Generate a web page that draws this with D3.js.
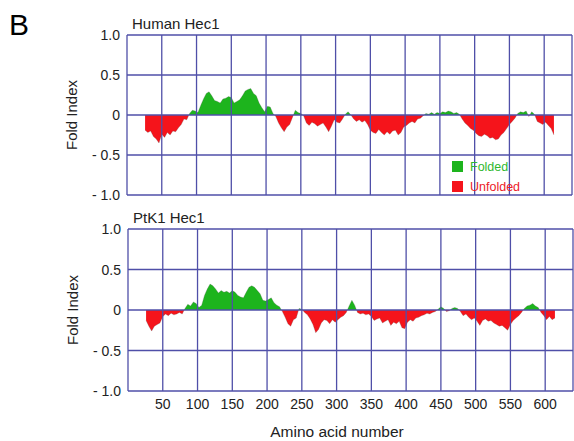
<!DOCTYPE html>
<html>
<head>
<meta charset="utf-8">
<script src="https://cdn.jsdelivr.net/npm/d3@7"></script>
<style>
  body { margin: 0; background: #fff; }
  text { font-family: "Liberation Sans", Arial, sans-serif; }
</style>
</head>
<body>
<svg id="chart" width="574" height="441"></svg>
<script>
// FoldIndex profiles, one value every 4 residues starting at residue 26
const residueStart = 26;
const residueStep = 4;

const humanHec1 = [
  -0.19, -0.22, -0.2, -0.27, -0.3, -0.35, -0.24, -0.28, -0.22, -0.25,
  -0.2, -0.21, -0.16, -0.12, -0.05, -0.06, 0.02, 0.06, 0.05, 0.03,
  0.12, 0.2, 0.27, 0.29, 0.24, 0.18, 0.17, 0.15, 0.2, 0.21,
  0.23, 0.22, 0.15, 0.17, 0.19, 0.24, 0.3, 0.32, 0.33, 0.27,
  0.24, 0.15, 0.09, 0.04, 0.11, 0.1, 0.02, -0.02, -0.1, -0.16,
  -0.21, -0.15, -0.12, -0.03, 0.06, 0.03, 0.02, -0.01, -0.1, -0.13,
  -0.09, -0.11, -0.14, -0.12, -0.1, -0.15, -0.21, -0.14, -0.06, -0.09,
  -0.1, -0.05, 0.01, 0.04, 0.0, -0.05, -0.08, -0.06, -0.09, -0.07,
  -0.12, -0.19, -0.22, -0.23, -0.18, -0.22, -0.25, -0.21, -0.24, -0.2,
  -0.19, -0.25, -0.22, -0.15, -0.13, -0.1, -0.08, -0.1, -0.05, -0.04,
  -0.01, 0.02, 0.01, 0.03, 0.01, 0.03, 0.02, 0.04, 0.03, 0.05,
  0.04, 0.02, 0.03, 0.01, -0.05, -0.1, -0.13, -0.17, -0.19, -0.23,
  -0.26, -0.27, -0.24, -0.26, -0.29, -0.28, -0.31, -0.3, -0.25, -0.22,
  -0.17, -0.12, -0.08, -0.04, 0.02, 0.04, 0.03, 0.05, -0.02, 0.04,
  0.01, -0.08, -0.1, -0.12, -0.09, -0.13, -0.17, -0.25
];

const ptk1Hec1 = [
  -0.13, -0.2, -0.26, -0.2, -0.18, -0.16, -0.08, -0.05, -0.07, -0.04,
  -0.06, -0.05, -0.03, -0.05, 0.02, 0.07, 0.05, 0.1, 0.08, 0.03,
  0.06, 0.18, 0.26, 0.32, 0.3, 0.26, 0.21, 0.24, 0.22, 0.23,
  0.21, 0.24, 0.22, 0.18, 0.16, 0.15, 0.22, 0.28, 0.3, 0.28,
  0.24, 0.2, 0.12, 0.11, 0.13, 0.15, 0.09, 0.06, 0.04, -0.02,
  -0.09, -0.17, -0.2, -0.12, -0.1, 0.02, 0.01, -0.03, -0.06, -0.11,
  -0.18, -0.28, -0.24, -0.16, -0.12, -0.13, -0.17, -0.12, -0.15, -0.12,
  -0.09, -0.07, -0.03, 0.05, 0.12, 0.06, -0.03, -0.05, -0.04, -0.06,
  -0.05, -0.08, -0.13, -0.11, -0.1, -0.16, -0.14, -0.12, -0.19, -0.15,
  -0.17, -0.14, -0.22, -0.23, -0.15, -0.12, -0.14, -0.1, -0.09, -0.07,
  -0.06, -0.04, -0.05, -0.03, -0.02, 0.01, 0.04, 0.02, -0.02, -0.01,
  0.02, 0.03, 0.02, -0.02, -0.07, -0.05, -0.09, -0.12, -0.1, -0.14,
  -0.19, -0.13, -0.11, -0.14, -0.13, -0.16, -0.18, -0.2, -0.19, -0.22,
  -0.25, -0.18, -0.13, -0.1, -0.07, -0.03, 0.02, 0.05, 0.06, 0.08,
  0.05, 0.03, -0.03, -0.07, -0.12, -0.08, -0.12, -0.1
];

const yTicks = [1.0, 0.5, 0, -0.5, -1.0];
const yTickLabels = ["1.0", "0.5", "0", "- 0.5", "- 1.0"];
const xTicks = [50, 100, 150, 200, 250, 300, 350, 400, 450, 500, 550, 600];
const legendItems = ["Folded", "Unfolded"];

const gridColor = "#4f4fa8";
const green = "#1db41d";
const red = "#f5141b";

const svg = d3.select("#chart");

svg.append("text")
  .attr("x", 9).attr("y", 35)
  .style("font-size", "30px")
  .text("B");

const drawPanel = (name, values, box, showXAxis, showLegend, id) => {
  const data = values.map((v, i) => ({ res: residueStart + i * residueStep, v: v }));

  const x = d3.scaleLinear().domain([0, 640]).range([box.left, box.right]);
  const y = d3.scaleLinear().domain([-1, 1]).range([box.bottom, box.top]);

  const g = svg.append("g");

  // clip regions above and below zero
  const defs = svg.append("defs");
  defs.append("clipPath").attr("id", `above-${id}`)
    .append("rect")
    .attr("x", box.left).attr("y", box.top)
    .attr("width", box.right - box.left).attr("height", y(0) - box.top);
  defs.append("clipPath").attr("id", `below-${id}`)
    .append("rect")
    .attr("x", box.left).attr("y", y(0))
    .attr("width", box.right - box.left).attr("height", box.bottom - y(0));

  const area = d3.area()
    .x(d => x(d.res))
    .y0(y(0))
    .y1(d => y(d.v));

  g.append("path").datum(data)
    .attr("d", area)
    .attr("fill", green)
    .attr("clip-path", `url(#above-${id})`);
  g.append("path").datum(data)
    .attr("d", area)
    .attr("fill", red)
    .attr("clip-path", `url(#below-${id})`);

  g.append("path").datum(data)
    .attr("d", d3.line().x(d => x(d.res)).y(d => y(d.v)))
    .attr("fill", "none")
    .attr("stroke", "#555")
    .attr("stroke-opacity", 0.35)
    .attr("stroke-width", 0.7);

  // grid
  g.selectAll(".hgrid").data(yTicks).enter()
    .append("line")
    .attr("x1", box.left).attr("x2", box.right)
    .attr("y1", d => y(d)).attr("y2", d => y(d))
    .attr("stroke", gridColor).attr("stroke-width", 1.3);

  g.selectAll(".vgrid").data([0].concat(xTicks, [640])).enter()
    .append("line")
    .attr("x1", d => x(d)).attr("x2", d => x(d))
    .attr("y1", box.top).attr("y2", box.bottom)
    .attr("stroke", gridColor).attr("stroke-width", 1.3);

  // y tick labels
  g.selectAll(".ylab").data(yTicks).enter()
    .append("text")
    .attr("x", box.left - 7)
    .attr("y", d => y(d) + 5)
    .attr("text-anchor", "end")
    .style("font-size", "14px")
    .style("fill", "#222")
    .text((d, i) => yTickLabels[i]);

  g.append("text")
    .attr("transform", `translate(${box.left - 50},${(box.top + box.bottom) / 2}) rotate(-90)`)
    .attr("text-anchor", "middle")
    .style("font-size", "15px")
    .style("fill", "#222")
    .text("Fold Index");

  g.append("text")
    .attr("x", box.left + 5).attr("y", box.top - 6)
    .style("font-size", "15px")
    .style("fill", "#222")
    .text(name);

  if (showXAxis) {
    g.selectAll(".xlab").data(xTicks).enter()
      .append("text")
      .attr("x", d => x(d))
      .attr("y", box.bottom + 18)
      .attr("text-anchor", "middle")
      .style("font-size", "14px")
      .style("fill", "#222")
      .text(d => d);
  }

  if (showLegend) {
    const lg = g.append("g").attr("transform", "translate(452,161)");
    lg.selectAll("rect").data(legendItems).enter()
      .append("rect")
      .attr("x", 0).attr("y", (d, i) => i * 20)
      .attr("width", 11).attr("height", 11)
      .attr("fill", (d, i) => i === 0 ? green : red);
    lg.selectAll("text").data(legendItems).enter()
      .append("text")
      .attr("x", 18).attr("y", (d, i) => i * 20 + 10)
      .style("font-size", "12.5px")
      .style("fill", (d, i) => i === 0 ? "#2fb82f" : "#ec2028")
      .text(d => d);
  }
};

drawPanel("Human Hec1", humanHec1, { left: 127, right: 572, top: 35, bottom: 195 }, false, true, "top");
drawPanel("PtK1 Hec1", ptk1Hec1, { left: 128, right: 573, top: 229, bottom: 391 }, true, false, "bot");

svg.append("text")
  .attr("x", 337).attr("y", 437)
  .attr("text-anchor", "middle")
  .style("font-size", "15.5px")
  .style("fill", "#222")
  .text("Amino acid number");
</script>
</body>
</html>
